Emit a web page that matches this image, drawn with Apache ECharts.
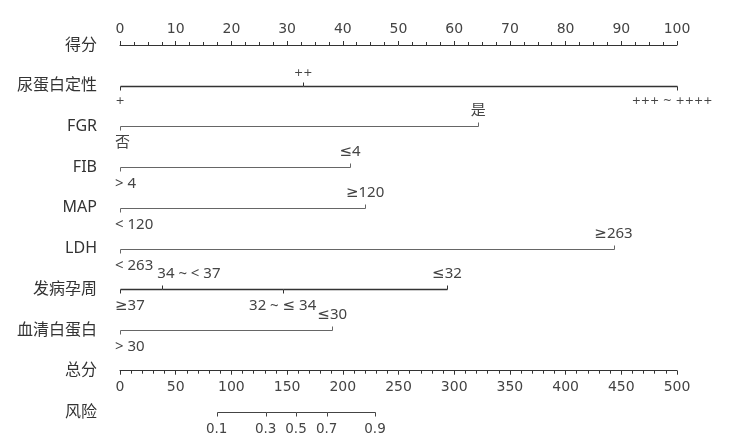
<!DOCTYPE html>
<html>
<head>
<meta charset="utf-8">
<script src="https://cdn.jsdelivr.net/npm/echarts@6/dist/echarts.min.js"></script>
<style>html,body{margin:0;padding:0;background:#fff;}#c{width:740px;height:446px;}</style>
</head>
<body>
<div id="c"></div>
<script>
// ---- data ----
const rowNames = ['得分', '尿蛋白定性', 'FGR', 'FIB', 'MAP', 'LDH', '发病孕周', '血清白蛋白', '总分'];
const riskRowName = ['风险'];

const urineLevels = ['+', '++', '+++ ~ ++++'];
const urinePoints = [0, 32.9, 100];
const fgrLevels = ['否', '是'];
const fgrPoints = [0, 64.3];
const fibLevels = ['> 4', '≤4'];
const fibPoints = [0, 41.3];
const mapLevels = ['< 120', '≥120'];
const mapPoints = [0, 44.0];
const ldhLevels = ['< 263', '≥263'];
const ldhPoints = [0, 88.6];
const gaLevels = ['≥37', '34 ~ < 37', '32 ~ ≤ 34', '≤32'];
const gaPoints = [0, 7.6, 29.2, 58.7];
const albLevels = ['> 30', '≤30'];
const albPoints = [0, 38.1];

const riskLabels = ['0.1', '0.3', '0.5', '0.7', '0.9'];
const riskTotalPoints = [86.8, 130.8, 158.0, 185.5, 228.9];

// ---- build ----
const variables = [
  { row: 1, levels: urineLevels, points: urinePoints, strong: true },
  { row: 2, levels: fgrLevels, points: fgrPoints },
  { row: 3, levels: fibLevels, points: fibPoints },
  { row: 4, levels: mapLevels, points: mapPoints },
  { row: 5, levels: ldhLevels, points: ldhPoints },
  { row: 6, levels: gaLevels, points: gaPoints, strong: true },
  { row: 7, levels: albLevels, points: albPoints }
];
const leftAligned = new Set(['34 ~ < 37']);
const textFont = 'Noto Sans, DejaVu Sans, Noto Sans CJK SC';

function makeRender(pts, labels, opts) {
  return function (params, api) {
    const i = api.value(2);
    const row = api.value(1);
    const c = api.coord([api.value(0), row]);
    const y = Math.round(c[1]) + 0.5;
    const x = Math.round(c[0]) + 0.5;
    const below = opts.allBelow || i % 2 === 0;
    const stroke = opts.stroke;
    const lw = opts.lineWidth;
    const children = [];
    if (i > 0) {
      const p = api.coord([pts[i - 1], row]);
      children.push({ type: 'line', shape: { x1: Math.round(p[0]) + 0.5, y1: y, x2: x, y2: y },
        style: { stroke: stroke, lineWidth: lw } });
    }
    children.push({ type: 'line', shape: { x1: x, y1: y, x2: x, y2: y + (below ? 4 : -4) },
      style: { stroke: stroke, lineWidth: 1 } });
    const txt = labels[i];
    const plusOnly = /^[+~ ]+$/.test(txt);
    let align = 'center', tx = c[0];
    if (!opts.allBelow && (i === 0 || leftAligned.has(txt)) && !plusOnly) { align = 'left'; tx = c[0] - 5; }
    if (plusOnly && i === labels.length - 1) { tx = c[0] - 5; }
    children.push({ type: 'text', style: {
      text: txt, x: tx, y: below ? y + (opts.belowGap || 9) : y - 8,
      textAlign: align, textVerticalAlign: below ? 'top' : 'bottom',
      fontSize: opts.fontSize || (plusOnly ? 11 : 15),
      fontFamily: opts.fontFamily || (plusOnly ? 'DejaVu Sans' : textFont),
      fill: '#444' } });
    return { type: 'group', children: children };
  };
}

const series = variables.map(v => ({
  type: 'custom', xAxisIndex: 0, yAxisIndex: 0, clip: false, silent: true,
  renderItem: makeRender(v.points, v.levels, { stroke: v.strong ? '#333' : '#666', lineWidth: v.strong ? 1.6 : 1 }),
  data: v.points.map((p, i) => [p, v.row, i])
}));
series.push({
  type: 'custom', xAxisIndex: 2, yAxisIndex: 1, clip: false, silent: true,
  renderItem: makeRender(riskTotalPoints, riskLabels, { stroke: '#444', lineWidth: 1, allBelow: true,
    fontSize: 13.5, fontFamily: 'DejaVu Sans', belowGap: 10 }),
  data: riskTotalPoints.map((p, i) => [p, 0, i])
});

const axisNumLabel = { fontFamily: 'DejaVu Sans', fontSize: 14, color: '#444' };
const option = {
  animation: false,
  backgroundColor: '#fff',
  grid: [
    { left: 120, right: 63, top: 45, height: 325.7 },
    { left: 120, right: 63, top: 402.3, height: 20 }
  ],
  xAxis: [
    { type: 'value', gridIndex: 0, position: 'top', min: 0, max: 100, interval: 10,
      axisLine: { show: true, lineStyle: { color: '#333', width: 1 } },
      axisTick: { show: true, length: 4, lineStyle: { color: '#333' } },
      minorTick: { show: true, splitNumber: 4, length: 3, lineStyle: { color: '#333' } },
      splitLine: { show: false }, minorSplitLine: { show: false },
      axisLabel: Object.assign({ margin: 9 }, axisNumLabel) },
    { type: 'value', gridIndex: 0, position: 'bottom', min: 0, max: 500, interval: 50,
      axisLine: { show: true, onZero: false, lineStyle: { color: '#333', width: 1 } },
      axisTick: { show: true, length: 4, lineStyle: { color: '#333' } },
      minorTick: { show: true, splitNumber: 5, length: 3, lineStyle: { color: '#333' } },
      splitLine: { show: false }, minorSplitLine: { show: false },
      axisLabel: Object.assign({ margin: 10 }, axisNumLabel) },
    { type: 'value', gridIndex: 1, min: 0, max: 500, show: false }
  ],
  yAxis: [
    { type: 'category', gridIndex: 0, data: rowNames, inverse: true, boundaryGap: false,
      axisLine: { show: false }, axisTick: { show: false }, splitLine: { show: false },
      axisLabel: { margin: 23, fontSize: 16, color: '#333', fontFamily: textFont, interval: 0,
        padding: [0, 0, 5, 0] } },
    { type: 'category', gridIndex: 1, data: riskRowName, boundaryGap: true,
      axisLine: { show: false }, axisTick: { show: false }, splitLine: { show: false },
      axisLabel: { margin: 23, fontSize: 16, color: '#333', fontFamily: textFont, padding: [6, 0, 0, 0] } }
  ],
  series: series
};
const chart = echarts.init(document.getElementById('c'), null, { renderer: 'canvas' });
chart.setOption(option);
</script>
</body>
</html>
